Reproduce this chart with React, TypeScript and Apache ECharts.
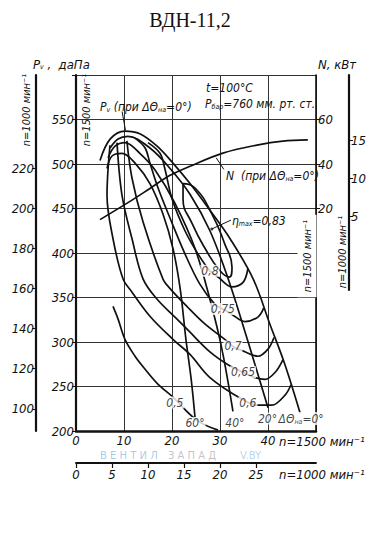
import React, { useEffect, useRef } from 'react';
import * as echarts from 'echarts';

// Q (thousand m3/h, n=1500) vs Pv (daPa)
const curve0deg = [[5.0,504],[7.1,528],[10.2,537],[13.3,534],[16.9,520],[20.2,501],[23.75,478],[27.9,448],[32.1,416],[36.9,371],[40.4,320],[43.5,275],[46.7,220]];
const curve20deg = [[7.1,518],[8.75,528],[10.8,531],[15.4,518],[19.6,495],[23.75,466],[27.9,425],[31.7,371],[35.8,301],[40,226]];
const curve40deg = [[6.67,507],[8.13,520],[10.2,524],[13.3,512],[16.5,493],[20.6,456],[24.8,405],[27.9,348],[30.4,292],[32.7,222]];
const curve60deg = [[6.46,495],[7.5,509],[9.58,512],[12.3,501],[15.4,478],[18.1,444],[20.2,405],[21.7,360],[22.9,303],[24.0,258],[24.8,215]];

const eff50 = [[7.71,340],[8.75,326],[10.2,303],[12.3,284],[14.0,272],[17,253],[20.2,238],[25.2,212],[29.6,201]];
const eff60 = [[7.08,521],[6.46,465],[7.71,416],[9.79,371],[11.67,356],[15.4,329],[20.2,303],[23.75,286],[27.9,260],[34.8,235],[37.9,229],[40.8,229],[43.5,240],[44.8,252]];
const eff65 = [[8.54,524],[9.58,465],[11.67,416],[13.96,371],[16.9,348],[21.0,326],[23.75,311],[27.9,289],[32.1,273],[34.8,266],[37.3,260],[39.4,258],[41.5,266],[43.1,280]];
const eff70 = [[10.6,526],[11.67,484],[13.96,435],[18.1,371],[19.6,360],[23.1,340],[26.9,320],[31.0,303],[32.7,295],[35.2,289],[37.9,284],[40,292],[41.25,305]];
const eff75 = [[12.3,529],[14.4,518],[15.4,501],[17.1,473],[19.6,439],[22.7,399],[25.8,365],[29.0,342],[30.6,337],[32.5,331],[35.2,323],[37.9,328],[39.1,338]];
const eff80 = [[15.0,524],[17.5,512],[18.5,495],[20,461],[22.7,425],[25.4,399],[27.9,380],[29.6,373],[32.5,362],[34.8,367],[35.8,382]];
const effMax = [[22.3,478],[24.8,473],[28.3,444],[31.0,410],[32.5,384],[31.9,373],[30.0,380],[26.9,405],[24.2,433],[22.3,461],[22.3,478]];

// N (kW, n=1500) at ΔΘ=0°
const powerN = [[5.0,15.0],[11.25,23.2],[15.4,29.0],[19.6,34.9],[23.75,39.0],[30.6,44.9],[37.7,48.5],[43.1,50.3],[48.3,50.8]];

// pointer leaders
const pvPointer = [[9.6,559],[10.3,538]];
const nPointer = [[29.2,507],[30.8,494]];
const etaPointer = [[32.3,437],[28.3,427]];

// curve labels
const curveLabels = [
  { name: '0,5', value: [20.6, 232] },
  { name: '0,6', value: [35.8, 232] },
  { name: '0,65', value: [34.8, 266] },
  { name: '0,7', value: [32.7, 295] },
  { name: '0,75', value: [30.6, 337] },
  { name: '0,8', value: [27.9, 380] },
  { name: '60°', value: [24.8, 209] },
  { name: '40°', value: [33.1, 209] },
  { name: '20°', value: [39.9, 214] },
  { name: '{m|ΔΘ}{s|на}{m|=0°}', value: [46.9, 214] },
];

const xTicks1500 = [0, 10, 20, 30, 40];
const xTicks1000 = [0, 5, 10, 15, 20, 25];
const yTicks1500 = [200, 250, 300, 350, 400, 450, 500, 550];
const yTicks1000 = [100, 120, 140, 160, 180, 200, 220];
const nTicks1500 = [20, 40, 60];
const nTicks1000 = [5, 10, 15];

const FF = "'Liberation Sans Narrow','DejaVu Sans Condensed','DejaVu Sans',sans-serif";
const INK = '#111';

export default function App() {
  const ref = useRef<HTMLDivElement>(null);
  useEffect(() => {
    document.body.style.margin = '0';
    if (!ref.current) return;
    const chart = echarts.init(ref.current, null, { renderer: 'svg' });
    const lab = { fontFamily: FF, fontStyle: 'italic' as const, fontSize: 13, color: INK };
    const rich = {
      m: { fontFamily: FF, fontStyle: 'italic', fontSize: 12, fill: INK, color: INK },
      b: { fontFamily: FF, fontStyle: 'italic', fontSize: 13, fill: INK, color: INK },
      s: { fontFamily: FF, fontStyle: 'italic', fontSize: 7, fill: INK, color: INK, padding: [6, 0, 0, 0] },
    };
    const line = (data: number[][], extra: any = {}) => ({
      type: 'line', data, smooth: 0.35, showSymbol: false, silent: true,
      lineStyle: { color: INK, width: 1.7 }, xAxisIndex: 0, yAxisIndex: 0, z: 3, ...extra,
    });
    const txt = (x: number, y: number, text: string, extra: any = {}) => ({
      type: 'text', x, y, z: 10,
      style: { text, fontFamily: FF, fontStyle: 'italic', fontSize: 12, fill: INK, align: 'left', verticalAlign: 'middle', rich, ...extra },
    });
    chart.setOption({
      animation: false,
      grid: [
        { left: 76, right: 64, top: 75, bottom: 106 },
        { left: 76, right: 64, top: 75, height: 215 },
      ],
      xAxis: [
        {
          gridIndex: 0, type: 'value', min: 0, max: 50, interval: 10,
          axisLine: { onZero: false, lineStyle: { color: INK, width: 2.5 } },
          axisTick: { show: false },
          axisLabel: { ...lab, margin: 3, customValues: xTicks1500 },
          splitLine: { show: true, lineStyle: { color: '#333', width: 1 } },
        },
        {
          gridIndex: 0, type: 'value', position: 'bottom', offset: 32, min: 0, max: 100 / 3,
          axisLine: { onZero: false, lineStyle: { color: INK, width: 1.8 } },
          axisTick: { show: true, length: 5, customValues: xTicks1000, lineStyle: { color: INK, width: 1.2 } },
          axisLabel: { ...lab, margin: 5, customValues: xTicks1000 },
          splitLine: { show: false },
        },
        { gridIndex: 1, type: 'value', min: 0, max: 50, show: false, axisLine: { onZero: false } },
      ],
      yAxis: [
        {
          gridIndex: 0, type: 'value', position: 'left', min: 200, max: 600, interval: 50,
          axisLine: { show: true, onZero: false, lineStyle: { color: INK, width: 2.2 } },
          axisTick: { show: true, length: 4, lineStyle: { color: INK } },
          axisLabel: { ...lab, margin: 2, customValues: yTicks1500 },
          splitLine: { show: true, lineStyle: { color: '#333', width: 1 } },
        },
        {
          gridIndex: 0, type: 'value', position: 'left', offset: 40, min: 800 / 9, max: 2400 / 9,
          axisLine: { show: true, onZero: false, lineStyle: { color: INK, width: 2.2 } },
          axisTick: { show: true, length: 4, customValues: yTicks1000, lineStyle: { color: INK } },
          axisLabel: { ...lab, margin: 2, customValues: yTicks1000 },
          splitLine: { show: false },
        },
        {
          gridIndex: 0, type: 'value', position: 'right', min: -80, max: 80,
          axisLine: { show: true, onZero: false, lineStyle: { color: INK, width: 1.6 } },
          axisTick: { show: true, length: 4, customValues: nTicks1500, lineStyle: { color: INK } },
          axisLabel: { ...lab, margin: 2, customValues: nTicks1500 },
          splitLine: { show: false },
        },
        {
          gridIndex: 1, type: 'value', position: 'right', offset: 33, min: -4.8, max: 23.7,
          axisLine: { show: true, onZero: false, lineStyle: { color: INK, width: 2.2 } },
          axisTick: { show: true, length: 4, customValues: nTicks1000, lineStyle: { color: INK } },
          axisLabel: { ...lab, margin: 2, customValues: nTicks1000 },
          splitLine: { show: false },
        },
      ],
      series: [
        line(curve0deg), line(curve20deg), line(curve40deg), line(curve60deg),
        line(eff50), line(eff60), line(eff65), line(eff70), line(eff75), line(eff80),
        line(effMax, { smooth: 0.5 }),
        line(powerN, { yAxisIndex: 2 }),
        line(pvPointer, { smooth: false, lineStyle: { color: INK, width: 1 } }),
        line(nPointer, { smooth: false, lineStyle: { color: INK, width: 1 } }),
        line(etaPointer, { smooth: false, lineStyle: { color: INK, width: 1 } }),
        {
          type: 'scatter', data: [etaPointer[1]], symbol: 'circle', symbolSize: 3, silent: true,
          itemStyle: { color: INK }, z: 4,
        },
        {
          type: 'scatter', data: curveLabels, symbolSize: 0, silent: true, z: 6,
          label: {
            show: true, position: 'inside', formatter: (p: any) => p.name,
            fontFamily: FF, fontStyle: 'italic', fontSize: 12, color: INK,
            backgroundColor: '#fff', padding: [0, 1], rich,
          },
        },
      ],
      graphic: [
        { type: 'text', x: 190, y: 20, style: { text: 'ВДН-11,2', fontFamily: "'Liberation Serif','DejaVu Serif',serif", fontSize: 20, fill: INK, align: 'center', verticalAlign: 'middle' } },
        txt(33, 64, '{b|P}{s|v}{b| ,  даПа}'),
        txt(318, 64, 'N, кВт', { fontSize: 13 }),
        { ...txt(26, 110, 'n=1000 мин⁻¹', { align: 'center', fontSize: 11 }), rotation: Math.PI / 2 },
        { ...txt(86, 110, 'n=1500 мин⁻¹', { align: 'center', fontSize: 11 }), rotation: Math.PI / 2 },
        { ...txt(307, 256, 'n=1500 мин⁻¹', { align: 'center', fontSize: 11, backgroundColor: '#fff', padding: [4, 5] }), rotation: Math.PI / 2 },
        { ...txt(342, 252, 'n=1000 мин⁻¹', { align: 'center', fontSize: 11 }), rotation: Math.PI / 2 },
        txt(206, 88, 't=100°C'),
        txt(205, 104, '{m|P}{s|бар}{m|=760 мм. рт. ст.}'),
        txt(100, 107, '{m|P}{s|v}{m| (при ΔΘ}{s|на}{m|=0°)}'),
        txt(226, 176, '{m|N  (при ΔΘ}{s|на}{m|=0°)}'),
        txt(232, 221, '{m|η}{s|max}{m|=0,83}', { fontSize: 13 }),
        txt(279, 441, 'n=1500 мин⁻¹', { fontSize: 13 }),
        txt(279, 474, 'n=1000 мин⁻¹', { fontSize: 13 }),
        { type: 'text', x: 100, y: 455, z: 0, style: { text: 'В Е Н Т И Л', fontFamily: 'DejaVu Sans', fontSize: 10, fill: 'rgba(90,160,215,0.55)', verticalAlign: 'middle' } },
        { type: 'text', x: 168, y: 455, z: 0, style: { text: 'З А П А Д', fontFamily: 'DejaVu Sans', fontSize: 10, fill: 'rgba(120,120,120,0.45)', verticalAlign: 'middle' } },
        { type: 'text', x: 240, y: 455, z: 0, style: { text: 'V.BY', fontFamily: 'DejaVu Sans', fontSize: 10, fill: 'rgba(90,160,215,0.45)', verticalAlign: 'middle' } },
      ],
    });
    return () => chart.dispose();
  }, []);
  return <div ref={ref} style={{ width: 380, height: 537 }} />;
}
